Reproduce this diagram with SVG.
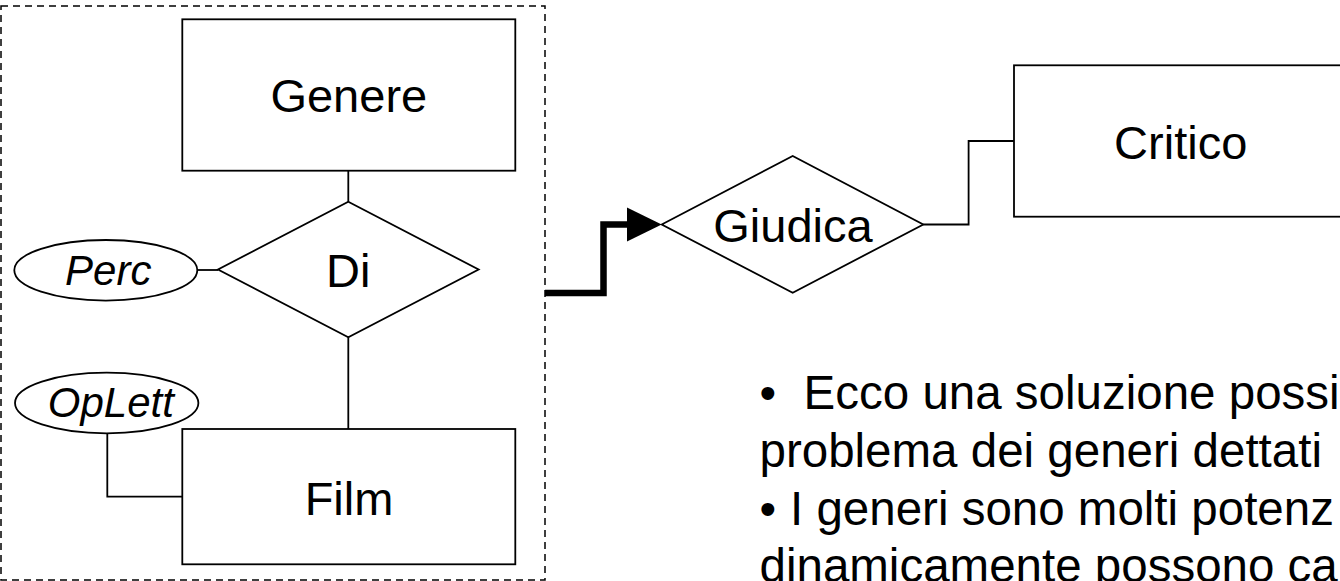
<svg xmlns="http://www.w3.org/2000/svg" width="1340" height="581" viewBox="0 0 1340 581">
<style>
.shape{fill:#fff;stroke:#000;stroke-width:1.8}
.ln{fill:none;stroke:#000;stroke-width:1.8}
.lbl{font-family:"Liberation Sans",Arial,sans-serif;font-size:47px;fill:#000;text-anchor:middle}
.attr{font-family:"Liberation Sans",Arial,sans-serif;font-size:42px;font-style:italic;fill:#000;text-anchor:middle}
.body{font-family:"Liberation Sans",Arial,sans-serif;font-size:47.5px;fill:#000}
</style>
<rect width="1340" height="581" fill="#fff"/>
<g id="aggregate">
<rect x="1" y="6" width="544" height="574" fill="none" stroke="#000" stroke-width="1.5" stroke-dasharray="7 5"/>
</g>
<g id="connectors">
<line class="ln" x1="348.3" y1="170.7" x2="348.3" y2="201.7"/>
<line class="ln" x1="197.3" y1="270" x2="218" y2="270"/>
<line class="ln" x1="348.3" y1="337.3" x2="348.3" y2="429"/>
<polyline class="ln" points="107.3,433.3 107.3,496.7 182.3,496.7"/>
<polyline class="ln" points="923.3,224.5 968.6,224.5 968.6,141 1014,141"/>
<polyline fill="none" stroke="#000" stroke-width="6.5" points="545,293 603.5,293 603.5,224.5 628,224.5"/>
<polygon fill="#000" points="627,207.5 661.7,224.5 627,241.5"/>
</g>
<g id="genere">
<rect class="shape" x="182.3" y="19.3" width="333" height="151.4"/>
<text class="lbl" x="348.8" y="112">Genere</text>
</g>
<g id="di">
<polygon class="shape" points="348.3,201.7 478.6,269.5 348.3,337.3 218,269.5"/>
<text class="lbl" x="348.3" y="287">Di</text>
</g>
<g id="perc">
<ellipse class="shape" cx="105.8" cy="270.3" rx="91.5" ry="30.3"/>
<text class="attr" x="108.3" y="285">Perc</text>
</g>
<g id="oplett">
<ellipse class="shape" cx="106.7" cy="403" rx="91.7" ry="30.3"/>
<text class="attr" x="110.8" y="416.7">OpLett</text>
</g>
<g id="film">
<rect class="shape" x="182.3" y="429" width="333" height="135.3"/>
<text class="lbl" x="349" y="515">Film</text>
</g>
<g id="giudica">
<polygon class="shape" points="661.7,224.5 792.7,156 923.3,224.5 792.7,292.7"/>
<text class="lbl" x="793" y="241.7">Giudica</text>
</g>
<g id="critico">
<rect class="shape" x="1014" y="65.3" width="333" height="151.4"/>
<text class="lbl" x="1180.7" y="159">Critico</text>
</g>
<g id="notes">
<text class="body" x="759.5" y="409">•</text>
<text class="body" x="803.6" y="409">Ecco una soluzione possi</text>
<text class="body" x="759.5" y="467">problema dei generi dettati</text>
<text class="body" x="759.5" y="525">•</text>
<text class="body" x="790" y="525">I generi sono molti potenz</text>
<text class="body" x="759.5" y="582">dinamicamente possono ca</text>
</g>
</svg>
